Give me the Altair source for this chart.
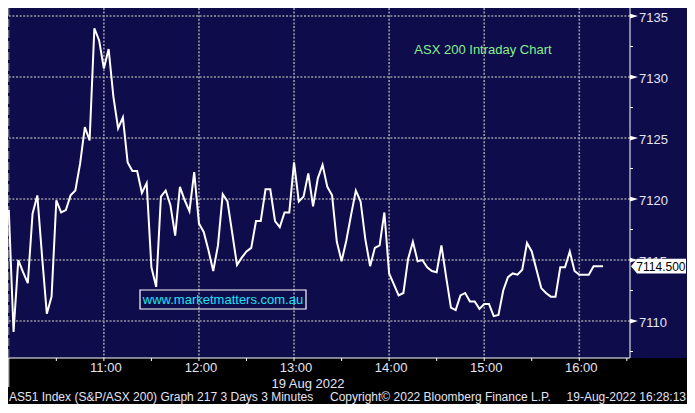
import altair as alt
import pandas as pd

# ---------------- data ----------------
start_minute = 600          # 10:00, first 3-minute bar
bar_minutes = 3
prices = [
    7119.1, 7109.1, 7115.0, 7114.0, 7113.1, 7118.8, 7120.3, 7115.3, 7110.6, 7112.0,
    7119.9, 7118.9, 7119.1, 7120.3, 7120.7, 7122.9, 7125.9, 7124.8, 7134.0, 7133.0,
    7130.7, 7132.3, 7128.4, 7125.8, 7126.7, 7123.0, 7122.3, 7122.3, 7120.5, 7121.3,
    7114.4, 7112.8, 7120.2, 7120.7, 7119.5, 7117.0, 7121.0, 7119.9, 7119.0, 7122.2,
    7118.0, 7117.3, 7115.8, 7114.1, 7116.2, 7120.4, 7119.8, 7117.2, 7114.6, 7115.2,
    7115.7, 7116.0, 7118.2, 7118.2, 7120.8, 7120.8, 7118.2, 7117.7, 7118.9, 7118.9,
    7123.0, 7119.8, 7120.2, 7122.1, 7119.4, 7121.7, 7122.8, 7121.0, 7120.3, 7116.5,
    7114.9, 7116.6, 7118.7, 7120.7, 7119.8, 7116.7, 7114.5, 7116.0, 7116.2, 7118.9,
    7113.9, 7113.0, 7112.1, 7112.3, 7115.1, 7116.5, 7114.9, 7115.0, 7114.4, 7114.1,
    7114.0, 7116.2, 7113.6, 7111.1, 7110.9, 7112.1, 7112.3, 7111.6, 7111.6, 7111.0,
    7111.4, 7111.4, 7110.4, 7110.5, 7112.5, 7113.6, 7113.9, 7113.8, 7114.2, 7116.4,
    7115.7, 7114.2, 7112.7, 7112.3, 7112.0, 7112.0, 7114.4, 7114.4, 7115.7, 7114.1,
    7113.8, 7113.8, 7113.8, 7114.5, 7114.5, 7114.5,
]
minutes = [start_minute + bar_minutes * i for i in range(len(prices))]

x_tick_minutes = [630, 660, 690, 720, 750, 780, 810, 840, 870, 900, 930, 960, 990]
hour_minutes = [660, 720, 780, 840, 900, 960]
hour_labels = ["11:00", "12:00", "13:00", "14:00", "15:00", "16:00"]
y_tick_values = [7107.5, 7110, 7112.5, 7115, 7117.5, 7120, 7122.5, 7125, 7127.5, 7130, 7132.5, 7135]
y_major_values = [7110, 7115, 7120, 7125, 7130, 7135]
y_major_labels = ["7110", "7115", "7120", "7125", "7130", "7135"]
session_start = [600]
last_price = [7114.5]
last_price_label = ["7114.500"]

chart_title = "ASX 200 Intraday Chart"
watermark = "www.marketmatters.com.au"
date_label = "19 Aug 2022"
footer_left = "AS51 Index (S&P/ASX 200) Graph 217 3 Days 3 Minutes"
footer_mid = "Copyright\u00a9 2022 Bloomberg Finance L.P."
footer_right = "19-Aug-2022 16:28:13"

# ---------------- style ----------------
W, H = 622, 350
PAD_R, PAD_B = 57, 46
NAVY = "#0f0c4b"
GRID = "#9a9aa2"
LABEL = "#e4e4f4"
FONT = "Liberation Sans"

xs = alt.Scale(domain=[599.5, 992], nice=False, zero=False)
ys = alt.Scale(domain=[7106.97, 7135.66], nice=False, zero=False)
X = alt.X("t:Q", scale=xs, axis=None)
Y = alt.Y("p:Q", scale=ys, axis=None)

df = pd.DataFrame({"t": minutes, "p": prices})
one = pd.DataFrame({"k": [0]})

hgrid = alt.Chart(pd.DataFrame({"p": y_major_values})).mark_rule(
    color=GRID, strokeWidth=1.6, strokeDash=[2, 1.6]
).encode(y=Y)
vgrid = alt.Chart(pd.DataFrame({"t": hour_minutes})).mark_rule(
    color=GRID, strokeWidth=1.6, strokeDash=[2, 1.6]
).encode(x=X)
session = alt.Chart(pd.DataFrame({"t": session_start})).mark_rule(
    color=GRID, strokeWidth=1, strokeDash=[8, 3]
).encode(x=X)

wm_df = pd.DataFrame({"label": [watermark]})
wm_box = alt.Chart(wm_df).mark_rect(fillOpacity=0, stroke="white", strokeWidth=1.2).encode(
    x=alt.value(132), x2=alt.value(298), y=alt.value(282), y2=alt.value(301)
)
wm_text = alt.Chart(wm_df).mark_text(
    color="#1ee3f2", font=FONT, fontSize=13, align="center", baseline="middle"
).encode(x=alt.value(215), y=alt.value(292), text="label:N")

title_text = alt.Chart(pd.DataFrame({"label": [chart_title]})).mark_text(
    color="#86f08c", font=FONT, fontSize=13, align="center", baseline="middle"
).encode(x=alt.value(475), y=alt.value(42), text="label:N")

line = alt.Chart(df).mark_line(color="white", strokeWidth=2).encode(x=X, y=Y)

bottom_bg = alt.Chart(one).mark_rect(color="black").encode(
    x=alt.value(0), x2=alt.value(W + PAD_R), y=alt.value(H), y2=alt.value(H + PAD_B)
)

x_domain = alt.Chart(one).mark_rule(color="white", strokeWidth=1).encode(
    x=alt.value(0), x2=alt.value(W), y=alt.value(H)
)
y_domain = alt.Chart(one).mark_rule(color="white", strokeWidth=1).encode(
    x=alt.value(W), y=alt.value(0), y2=alt.value(H)
)
x_ticks = alt.Chart(pd.DataFrame({"t": x_tick_minutes})).mark_rule(color="white", strokeWidth=1).encode(
    x=X, y=alt.value(H), y2=alt.value(H + 3)
)
y_ticks = alt.Chart(pd.DataFrame({"p": y_tick_values})).mark_rule(color="white", strokeWidth=1).encode(
    y=Y, x=alt.value(W), x2=alt.value(W + 3)
)
tri = alt.Chart(pd.DataFrame({"p": y_major_values})).mark_point(
    shape="M-1,-0.6L1,0L-1,0.6Z", filled=True, color="white", opacity=1, size=64
).encode(x=alt.value(W + 4), y=Y)

x_labels = alt.Chart(pd.DataFrame({"t": hour_minutes, "label": hour_labels})).mark_text(
    color=LABEL, font=FONT, fontSize=13, align="center", baseline="middle", dx=2
).encode(x=X, y=alt.value(H + 10), text="label:N")
y_labels = alt.Chart(pd.DataFrame({"p": y_major_values, "label": y_major_labels})).mark_text(
    color=LABEL, font=FONT, fontSize=13, align="left", baseline="middle", dy=1.5
).encode(x=alt.value(W + 9), y=Y, text="label:N")
date_text = alt.Chart(pd.DataFrame({"label": [date_label]})).mark_text(
    color=LABEL, font=FONT, fontSize=13, align="center", baseline="middle"
).encode(x=alt.value(300), y=alt.value(H + 26), text="label:N")

day_sep = alt.Chart(pd.DataFrame({"t": session_start})).mark_rule(
    color="white", strokeWidth=1
).encode(x=X, y=alt.value(H), y2=alt.value(H + 29))

f1 = alt.Chart(pd.DataFrame({"label": [footer_left]})).mark_text(
    color=LABEL, font=FONT, fontSize=12, align="left", baseline="alphabetic"
).encode(x=alt.value(1), y=alt.value(H + 43), text="label:N")
f2 = alt.Chart(pd.DataFrame({"label": [footer_mid]})).mark_text(
    color=LABEL, font=FONT, fontSize=12, align="left", baseline="alphabetic"
).encode(x=alt.value(322), y=alt.value(H + 43), text="label:N")
f3 = alt.Chart(pd.DataFrame({"label": [footer_right]})).mark_text(
    color=LABEL, font=FONT, fontSize=12, align="right", baseline="alphabetic"
).encode(x=alt.value(W + PAD_R - 1), y=alt.value(H + 43), text="label:N")

tag_df = pd.DataFrame({"p": last_price, "label": last_price_label})
tag = alt.Chart(tag_df).mark_point(
    shape="M-1,0L-0.78,-0.27L1,-0.27L1,0.27L-0.78,0.27Z",
    filled=True, color="white", opacity=1, size=3025,
).encode(x=alt.value(W + 28.5), y=Y)
tag_text = alt.Chart(tag_df).mark_text(
    color="black", font=FONT, fontSize=12, align="right", baseline="middle", dy=0.5
).encode(x=alt.value(W + 55.5), y=Y, text="label:N")

chart = alt.layer(
    hgrid, vgrid, session, wm_box, wm_text, title_text, line,
    bottom_bg, x_domain, y_domain, x_ticks, y_ticks, tri,
    x_labels, y_labels, date_text, day_sep, f1, f2, f3, tag, tag_text,
).properties(
    width=W, height=H,
    autosize=alt.AutoSizeParams(type="none"),
    padding={"left": 0, "top": 0, "right": PAD_R, "bottom": PAD_B},
    background=NAVY,
).configure_view(stroke=None)

chart.save("out.html", embed_options={"renderer": "svg", "actions": False})
